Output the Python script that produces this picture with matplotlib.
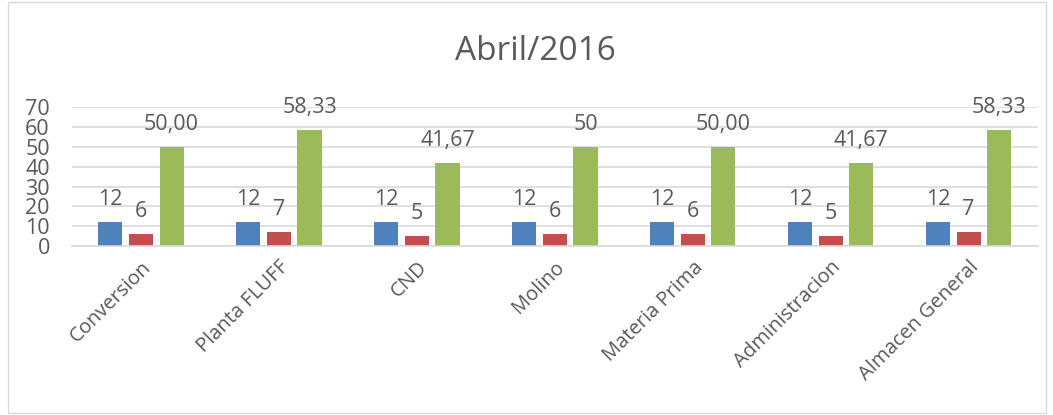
import matplotlib
matplotlib.use("Agg")
import matplotlib.pyplot as plt
import numpy as np
from matplotlib.patches import Rectangle

categories = ["Conversion", "Planta FLUFF", "CND", "Molino", "Materia Prima",
              "Administracion", "Almacen General"]
serie_a = [12, 12, 12, 12, 12, 12, 12]
serie_b = [6, 7, 5, 6, 6, 5, 7]
serie_c = [50.00, 58.33, 41.67, 50, 50.00, 41.67, 58.33]
labels_c = ["50,00", "58,33", "41,67", "50", "50,00", "41,67", "58,33"]

BLUE, RED, GREEN = "#4F81BD", "#C0504D", "#9BBB59"
TXT = "#595959"
plt.rcParams["font.family"] = ["Open Sans", "DejaVu Sans"]

fig = plt.figure(figsize=(10.53, 4.15), dpi=100)
fig.patches.append(Rectangle((0.008, 0.005), 0.985, 0.99, transform=fig.transFigure,
                             fill=False, edgecolor="#D9D9D9", linewidth=1))
ax = fig.add_axes([0.0684, 0.407, 0.917, 0.335])

x = np.arange(len(categories))
w = 0.175
off = 0.222
ax.bar(x - off, serie_a, w, color=BLUE)
ax.bar(x, serie_b, w, color=RED)
ax.bar(x + off, serie_c, w, color=GREEN)

lab = 8.6
for i in range(len(categories)):
    ax.text(x[i] - off, serie_a[i] + lab, str(serie_a[i]), ha="center", va="baseline", fontsize=15.5, color=TXT)
    ax.text(x[i], serie_b[i] + lab, str(serie_b[i]), ha="center", va="baseline", fontsize=15.5, color=TXT)
    ax.text(x[i] + off, serie_c[i] + lab, labels_c[i], ha="center", va="baseline", fontsize=15.5, color=TXT)

ax.set_xlim(-0.5, len(categories) - 0.5)
ax.set_ylim(0, 70)
ax.set_yticks(range(0, 71, 10))
ax.yaxis.grid(True, color="#D9D9D9", linewidth=1.2)
ax.set_axisbelow(True)
for s in ["top", "right", "left"]:
    ax.spines[s].set_visible(False)
ax.spines["bottom"].set_color("#D9D9D9")
ax.spines["bottom"].set_linewidth(1.2)
ax.tick_params(axis="both", length=0, colors=TXT, labelsize=15.5)
ax.tick_params(axis="y", pad=16)
ax.set_xticks(x)
ax.set_xticklabels(categories, rotation=45, ha="right", rotation_mode="anchor", fontsize=14.5)
ax.tick_params(axis="x", pad=8)

fig.text(0.508, 0.875, "Abril/2016", ha="center", va="center", fontsize=24, color=TXT)

fig.savefig("out.png", dpi=100)
